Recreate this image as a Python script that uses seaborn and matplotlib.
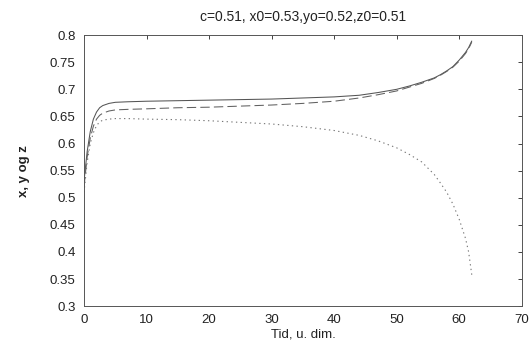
import matplotlib
matplotlib.use("Agg")
import matplotlib.pyplot as plt
import seaborn as sns
import pandas as pd

t = [0, 0.5, 1, 1.5, 2, 2.5, 3, 4, 5, 7, 10, 15, 20, 25, 30, 35, 40, 44,
     47, 50, 52, 54, 56, 57, 58, 59, 60, 61, 61.5, 62]
x_vals = [0.53, 0.585, 0.622, 0.645, 0.658, 0.666, 0.670, 0.674, 0.676, 0.677,
          0.678, 0.679, 0.680, 0.681, 0.682, 0.684, 0.686, 0.689, 0.694, 0.700,
          0.706, 0.713, 0.721, 0.727, 0.734, 0.742, 0.754, 0.768, 0.777, 0.789]
y_vals = [0.52, 0.575, 0.610, 0.632, 0.645, 0.652, 0.656, 0.660, 0.662, 0.663,
          0.664, 0.666, 0.667, 0.669, 0.671, 0.674, 0.678, 0.684, 0.690, 0.697,
          0.704, 0.711, 0.720, 0.726, 0.733, 0.741, 0.752, 0.766, 0.775, 0.787]
z_vals = [0.51, 0.565, 0.600, 0.620, 0.633, 0.640, 0.643, 0.645, 0.646, 0.646,
          0.645, 0.644, 0.642, 0.639, 0.636, 0.631, 0.624, 0.615, 0.605, 0.592,
          0.580, 0.566, 0.543, 0.527, 0.510, 0.488, 0.460, 0.425, 0.400, 0.358]

title = "c=0.51, x0=0.53,yo=0.52,z0=0.51"
xlabel = "Tid, u. dim."
ylabel = "x, y og z"
xticks = [0, 10, 20, 30, 40, 50, 60, 70]
yticks = [0.3, 0.35, 0.4, 0.45, 0.5, 0.55, 0.6, 0.65, 0.7, 0.75, 0.8]

sns.set_style("white")
plt.rcParams['font.family'] = ['Liberation Sans', 'DejaVu Sans']

fig = plt.figure(figsize=(5.3, 3.44), dpi=100)
ax = fig.add_axes([0.1585, 0.110, 0.826, 0.788])

df = pd.DataFrame({"t": t, "x": x_vals, "y": y_vals, "z": z_vals})
sns.lineplot(data=df, x="t", y="x", ax=ax, sort=False, color="#555555",
             linewidth=0.75, linestyle="-")
sns.lineplot(data=df, x="t", y="y", ax=ax, sort=False, color="#606060",
             linewidth=0.75, linestyle=(0, (9, 4)))
sns.lineplot(data=df, x="t", y="z", ax=ax, sort=False, color="#777777",
             linewidth=0.8, linestyle=(0, (1.2, 3)))

ax.set_xlim(0, 70)
ax.set_ylim(0.3, 0.8)
ax.set_xticks(xticks)
ax.set_xticklabels([str(v) for v in xticks])
ax.set_yticks(yticks)
ax.set_yticklabels([f"{v:g}" for v in yticks])
ax.tick_params(direction="in", length=3, width=0.6, top=True, right=True,
               labelsize=9.5, colors="#222222", pad=6)
for s in ax.spines.values():
    s.set_color("#555555")
    s.set_linewidth(0.7)
ax.set_title(title, fontsize=10, pad=10, color="#222222")
ax.set_xlabel(xlabel, fontsize=9.5, labelpad=1.5, color="#222222")
ax.set_ylabel(ylabel, fontsize=9.5, labelpad=14, color="#222222", fontweight="bold")

fig.savefig("out.png", dpi=100)
